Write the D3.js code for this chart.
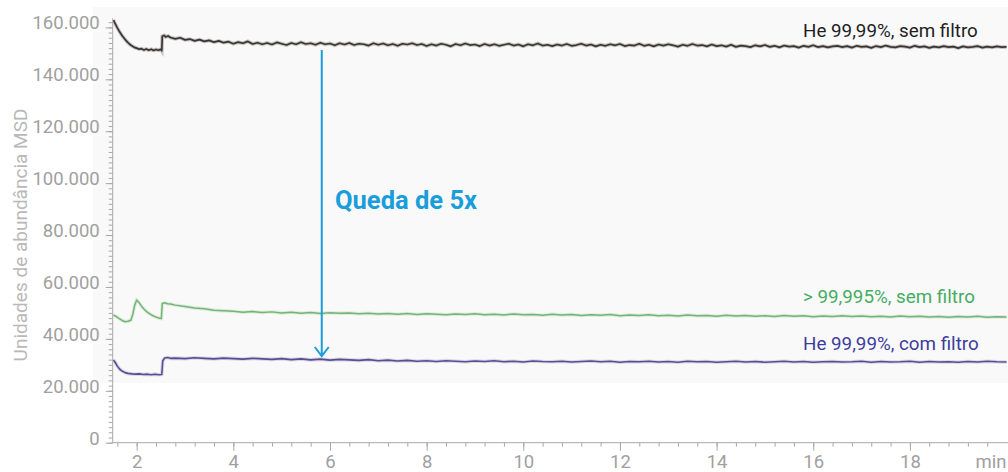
<!DOCTYPE html>
<html>
<head>
<meta charset="utf-8">
<script src="https://cdn.jsdelivr.net/npm/d3@7"></script>
<style>
  html, body { margin: 0; padding: 0; background: #fff; }
  svg { display: block; font-family: Roboto, "Noto Sans", sans-serif; }
</style>
</head>
<body>
<div id="chart"></div>
<script>
// Sinal de fundo (TIC) para 3 condições de hélio - valores em milhares de unidades

// início de cada traço: pares [min, milhares]
const blackStart = [[1.52,162.8],[1.55,161.6],[1.6,159.8],[1.65,158.2],[1.7,156.8],[1.75,155.6],[1.8,154.5],[1.85,153.6],[1.9,152.9],[1.95,152.3],[2.0,152.0],[2.05,151.6],[2.1,151.8],[2.15,151.3],[2.2,151.7],[2.25,151.2],[2.3,151.6],[2.35,151.1],[2.4,151.5],[2.45,151.2],[2.5,151.6],[2.52,151.0],[2.53,156.6],[2.57,156.9],[2.6,156.3],[2.65,156.7]];
// resto do traço preto, a cada 0,1 min a partir de 2,7
const blackRestT0 = 2.7, blackRestStep = 0.1;
const blackRest = [
  156.1,155.6,156.0,155.2,155.5,154.8,155.3,154.6,155.0,154.3,
  154.8,154.1,154.5,153.7,154.3,153.9,154.6,153.6,154.1,153.5,
  154.0,153.4,154.2,153.7,153.2,154.0,153.5,154.3,153.6,153.9,
  153.3,154.1,153.5,153.8,153.1,153.9,153.4,154.0,153.2,153.7,
  153.5,153.0,153.9,153.3,153.8,153.1,153.6,152.9,153.7,153.4,
  153.9,153.2,153.6,152.8,153.5,153.0,153.7,153.3,152.7,153.6,
  153.1,153.8,153.2,153.4,152.8,153.6,153.0,153.5,152.9,153.3,
  153.7,153.0,153.4,152.7,153.5,153.1,153.8,153.0,153.3,152.8,
  153.4,153.0,153.6,152.9,153.2,153.7,153.0,153.4,152.7,153.3,
  152.9,153.5,153.1,153.6,152.8,153.2,153.0,153.7,152.9,153.3,
  152.7,153.4,153.0,153.5,153.1,152.6,153.3,152.9,153.6,153.0,
  153.2,152.7,153.4,152.8,153.1,152.6,153.3,152.5,153.0,152.8,
  152.4,153.1,152.7,153.2,152.5,152.9,152.3,153.0,152.6,152.8,
  152.2,152.9,152.5,153.1,152.4,152.8,152.3,152.7,152.9,152.4,
  152.8,152.2,152.9,152.5,152.7,152.1,152.8,152.4,153.0,152.5,
  152.3,152.8,152.6,152.2,152.9,152.4,152.7,152.1,152.6,152.3,
  152.8,152.4,152.6,152.0,152.7,152.3,152.5,152.8,152.2,152.6,
  152.3,152.7,152.4,152.5
];

const greenStart = [[1.52,49.2],[1.58,48.6],[1.64,47.8],[1.7,47.1],[1.76,46.6],[1.82,46.8],[1.88,47.2],[1.92,49.5],[1.96,53.0],[2.0,55.0],[2.04,54.2],[2.1,52.6],[2.16,51.3],[2.22,50.3],[2.28,49.5],[2.34,48.9],[2.4,48.4],[2.46,48.0],[2.51,47.8],[2.53,53.6],[2.58,53.9],[2.64,53.5],[2.7,53.4]];
// resto verde e roxo, a cada 0,2 min a partir de 2,8
const restT0 = 2.8, restStep = 0.2;
const greenRest = [
  53.0,52.5,51.9,51.6,51.0,50.8,50.6,50.3,50.5,50.2,
  50.4,50.0,50.3,49.9,50.2,49.8,50.1,49.9,50.0,49.7,
  49.9,49.6,49.8,49.5,49.8,49.4,49.7,49.5,49.3,49.6,
  49.4,49.7,49.3,49.5,49.2,49.6,49.3,49.4,49.1,49.5,
  49.2,49.4,49.0,49.3,49.1,49.4,48.9,49.2,49.0,49.3,
  48.9,49.1,48.8,49.2,48.9,49.0,48.7,49.1,48.8,49.0,
  48.7,48.9,48.6,49.0,48.7,48.9,48.5,48.8,48.6,48.9,
  48.6,48.8,48.5,48.7,48.4,48.8,48.5,48.7,48.4,48.6,
  48.3,48.6,48.4,48.7,48.3,48.5,48.4
];

const purpleStart = [[1.52,31.9],[1.56,30.8],[1.6,29.5],[1.65,28.3],[1.7,27.6],[1.76,27.0],[1.82,26.7],[1.9,26.5],[1.98,26.4],[2.06,26.5],[2.14,26.3],[2.22,26.4],[2.3,26.2],[2.38,26.4],[2.46,26.2],[2.52,26.3],[2.54,31.6],[2.58,32.6],[2.64,32.8],[2.7,32.5]];
const purpleRest = [
  32.6,32.4,32.7,32.5,32.3,32.6,32.4,32.2,32.5,32.3,
  32.1,32.4,32.0,32.3,31.9,32.2,31.8,32.1,31.9,31.7,
  32.0,31.6,31.8,31.5,31.7,31.4,31.6,31.3,31.6,31.4,
  31.2,31.5,31.3,31.6,31.2,31.4,31.1,31.5,31.3,31.2,
  31.4,31.1,31.3,31.5,31.2,31.4,31.0,31.3,31.2,31.4,
  31.1,31.3,31.0,31.4,31.2,31.3,31.0,31.2,31.4,31.1,
  31.3,31.0,31.2,31.4,31.1,31.3,31.0,31.2,31.3,31.1,
  31.2,31.4,31.0,31.3,31.1,31.2,31.4,31.0,31.3,31.1,
  31.2,31.0,31.3,31.1,31.4,31.2,31.1
];

const seriesLabels = ["He 99,99%, sem filtro", "> 99,995%, sem filtro", "He 99,99%, com filtro"];
const yTicks = [0, 20, 40, 60, 80, 100, 120, 140, 160];
const xTicks = [2, 4, 6, 8, 10, 12, 14, 16, 18];
const xUnit = "min";
const yTitle = "Unidades de abundância MSD";
const dropLabel = "Queda de 5x";
const dropAt = 5.83, dropFrom = 151.3, dropTo = 33.4;

const W = 1008, H = 472;

const svg = d3.select("#chart")
  .append("svg")
    .attr("width", W)
    .attr("height", H);

const x = d3.scaleLinear().domain([1.5, 20.03]).range([112.5, 1008]);
const y = d3.scaleLinear().domain([0, 163.5]).range([442.7, 18.3]);

// fundo cinza claro do cromatograma
svg.append("rect")
  .attr("x", 93).attr("y", 7)
  .attr("width", W - 93).attr("height", 376)
  .attr("fill", "#f9f9f9");

const join = (start, rest, t0, step) =>
  start.concat(rest.map((v, i) => [t0 + i * step, v]));

const series = [
  { pts: join(blackStart, blackRest, blackRestT0, blackRestStep), color: "#3a3434", w: 1.7, halo: "#8a8080" },
  { pts: join(greenStart, greenRest, restT0, restStep), color: "#74b476", w: 1.5, halo: "#bcdcbc" },
  { pts: join(purpleStart, purpleRest, restT0, restStep), color: "#5a4e90", w: 1.6, halo: "#b4aed0" }
];

svg.append("defs").append("clipPath").attr("id", "clip")
  .append("rect").attr("x", 113).attr("y", 0).attr("width", W - 113).attr("height", 443);

const line = d3.line().x(d => x(d[0])).y(d => y(d[1]));

const plot = svg.append("g").attr("clip-path", "url(#clip)");
series.forEach(s => {
  plot.append("path").datum(s.pts)
    .attr("fill", "none").attr("stroke", s.halo)
    .attr("stroke-width", s.w + 2).attr("stroke-opacity", 0.45)
    .attr("d", line);
  plot.append("path").datum(s.pts)
    .attr("fill", "none").attr("stroke", s.color)
    .attr("stroke-width", s.w).attr("stroke-linejoin", "round")
    .attr("d", line);
});

// --- Eixos ---
const axisColor = "#a8a8a8";
const styleAxis = g => {
  g.selectAll("path, line").attr("stroke", axisColor);
  g.selectAll("text").attr("fill", "#a0a0a0").attr("font-size", "18.5px")
    .attr("font-family", "Roboto, sans-serif");
};

// menores
svg.append("g").attr("transform", "translate(112.7,0)")
  .call(d3.axisLeft(y).tickValues(d3.range(0, 163, 2)).tickSize(4).tickFormat(""))
  .call(g => g.select(".domain").remove())
  .call(styleAxis);
svg.append("g").attr("transform", "translate(0,442.7)")
  .call(d3.axisBottom(x).tickValues(d3.range(1.6, 19.7, 0.4)).tickSize(4).tickFormat(""))
  .call(g => g.select(".domain").remove())
  .call(styleAxis);

// maiores
svg.append("g").attr("transform", "translate(112.7,0)")
  .call(d3.axisLeft(y).tickValues(yTicks).tickSize(7).tickPadding(6)
    .tickFormat(d => d === 0 ? "0" : d + ".000"))
  .call(g => g.select(".domain").attr("d", `M0,${y(0)}V${y(163.5)}`))
  .call(styleAxis)
  .call(g => g.selectAll("text").attr("dy", "1.5"));

svg.append("g").attr("transform", "translate(0,442.7)")
  .call(d3.axisBottom(x).tickValues(xTicks).tickSize(8))
  .call(g => g.select(".domain").attr("d", `M${x(1.5)},0H${W}`))
  .call(styleAxis)
  .call(g => g.selectAll("text").attr("y", 25).attr("dy", 0));

svg.append("text")
  .attr("x", 991).attr("y", 467.7)
  .attr("text-anchor", "middle")
  .attr("font-size", "18.5px").attr("fill", "#a0a0a0")
  .text(xUnit);

// Nhãn trục Y
svg.append("text")
  .attr("transform", "rotate(-90)")
  .attr("x", -235)
  .attr("y", 27)
  .attr("text-anchor", "middle")
  .attr("font-size", "19px")
  .attr("fill", "#b8b8b8")
  .text(yTitle);

// rótulos das séries
const labelColors = ["#1e1e1e", "#45ad62", "#3d3d9e"];
const labelY = [37, 303, 350];
seriesLabels.forEach((t, i) => {
  svg.append("text")
    .attr("x", 803).attr("y", labelY[i])
    .attr("font-size", "18.8px")
    .attr("fill", labelColors[i])
    .text(t);
});

// seta de queda
const blue = "#1a9ddb";
const ax = x(dropAt);
svg.append("line")
  .attr("x1", ax).attr("x2", ax)
  .attr("y1", y(dropFrom)).attr("y2", y(dropTo))
  .attr("stroke", blue).attr("stroke-width", 2);
svg.append("path")
  .attr("d", `M${ax - 7},${y(dropTo) - 9}L${ax},${y(dropTo)}L${ax + 7},${y(dropTo) - 9}`)
  .attr("fill", "none").attr("stroke", blue).attr("stroke-width", 2);

svg.append("text")
  .attr("x", 335).attr("y", 209)
  .attr("font-size", "25.5px")
  .attr("font-weight", "bold")
  .attr("fill", blue)
  .text(dropLabel);
</script>
</body>
</html>
